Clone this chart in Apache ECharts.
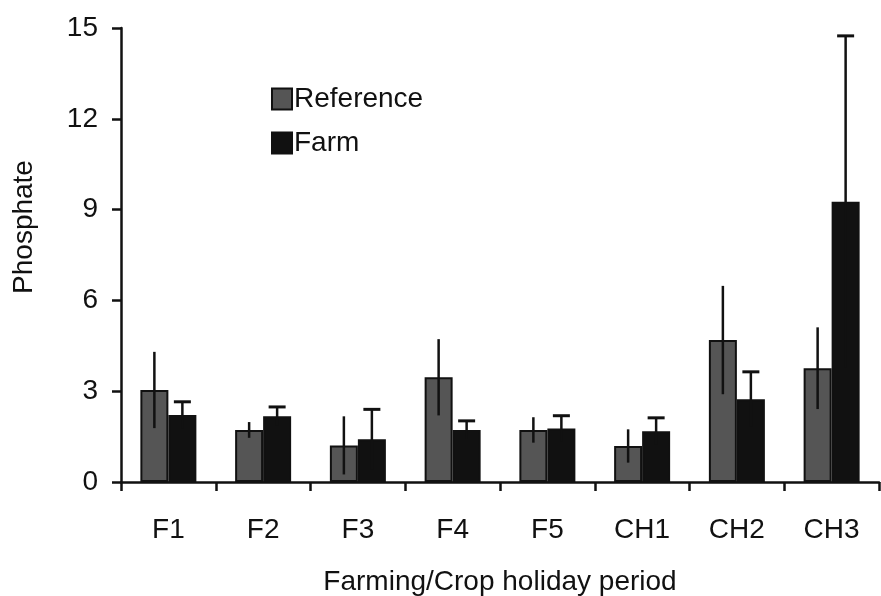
<!DOCTYPE html>
<html>
<head>
<meta charset="utf-8">
<script src="https://cdn.jsdelivr.net/npm/echarts@6/dist/echarts.min.js"></script>
<style>
  html, body { margin: 0; padding: 0; background: #fff; }
  #chart { width: 881px; height: 596px; }
</style>
</head>
<body>
<div id="chart"></div>
<script>
// Phosphate by farming / crop holiday period
const periods = ['F1', 'F2', 'F3', 'F4', 'F5', 'CH1', 'CH2', 'CH3'];
const referenceMean = [3.04, 1.72, 1.21, 3.46, 1.72, 1.19, 4.69, 3.76];
const referenceErr  = [1.26, 0.26, 0.96, 1.26, 0.42, 0.55, 1.79, 1.35];
const farmMean = [2.21, 2.17, 1.41, 1.72, 1.77, 1.68, 2.73, 9.26];
const farmErr  = [0.44, 0.31, 0.99, 0.30, 0.42, 0.44, 0.91, 5.48];
const yTicks = [0, 3, 6, 9, 12, 15];

const FONT = '"Liberation Sans", Arial, sans-serif';
const FS = 28;
const BAR_W = 28;
const INK = '#111';

function errorBars(means, errs, offset, withCap) {
  return {
    type: 'custom',
    silent: true,
    z: 5,
    data: means.map((m, i) => [i, m, errs[i]]),
    renderItem: function (params, api) {
      const i = api.value(0), m = api.value(1), e = api.value(2);
      const top = api.coord([i, m + e]);
      const bot = api.coord([i, Math.max(0, m - e)]);
      const x = top[0] + offset;
      const children = [{
        type: 'line',
        shape: { x1: x, y1: bot[1], x2: x, y2: top[1] },
        style: { stroke: INK, lineWidth: 2.5 }
      }];
      if (withCap) {
        children.push({
          type: 'line',
          shape: { x1: x - 8.5, y1: top[1], x2: x + 8.5, y2: top[1] },
          style: { stroke: INK, lineWidth: 3 }
        });
      }
      return { type: 'group', children: children };
    }
  };
}

const chart = echarts.init(document.getElementById('chart'));
chart.setOption({
  animation: false,
  backgroundColor: '#fff',
  textStyle: { fontFamily: FONT, color: INK },
  grid: {
    left: 121, right: 2, top: 28, bottom: 114,
    containLabel: false,
    outerBoundsMode: 'none'
  },
  legend: {
    orient: 'vertical',
    left: 266,
    top: 80,
    itemWidth: 20,
    itemHeight: 21,
    itemGap: 16,
    icon: 'rect',
    textStyle: { fontFamily: FONT, fontSize: FS, lineHeight: 28, color: INK, padding: [0, 0, 0, -3] },
    data: ['Reference', 'Farm']
  },
  xAxis: {
    type: 'category',
    data: periods,
    boundaryGap: true,
    axisLine: { lineStyle: { color: INK, width: 2.5 } },
    axisTick: { show: true, length: 9, lineStyle: { color: INK, width: 2.5 } },
    axisLabel: { fontFamily: FONT, fontSize: FS, color: INK, margin: 34 },
    name: 'Farming/Crop holiday period',
    nameLocation: 'middle',
    nameGap: 86,
    nameTextStyle: { fontFamily: FONT, fontSize: FS, color: INK }
  },
  yAxis: {
    type: 'value',
    min: yTicks[0],
    max: yTicks[yTicks.length - 1],
    interval: yTicks[1] - yTicks[0],
    splitLine: { show: false },
    axisLine: { show: true, lineStyle: { color: INK, width: 2.5 } },
    axisTick: { show: true, length: 9, lineStyle: { color: INK, width: 2.5 } },
    axisLabel: { fontFamily: FONT, fontSize: FS, color: INK, margin: 23 }
  },
  graphic: [{
    type: 'text',
    x: 24,
    y: 227,
    rotation: Math.PI / 2,
    style: {
      text: 'Phosphate',
      font: FS + 'px ' + FONT,
      fill: INK,
      align: 'center',
      verticalAlign: 'middle'
    }
  }],
  series: [
    {
      name: 'Reference',
      type: 'bar',
      data: referenceMean,
      barWidth: BAR_W,
      barGap: '0%',
      itemStyle: { color: '#555', borderColor: INK, borderWidth: 2 }
    },
    {
      name: 'Farm',
      type: 'bar',
      data: farmMean,
      barWidth: BAR_W,
      barGap: '0%',
      itemStyle: { color: INK, borderColor: INK, borderWidth: 2 }
    },
    errorBars(referenceMean, referenceErr, -BAR_W / 2, false),
    errorBars(farmMean, farmErr, BAR_W / 2, true)
  ]
});
</script>
</body>
</html>
